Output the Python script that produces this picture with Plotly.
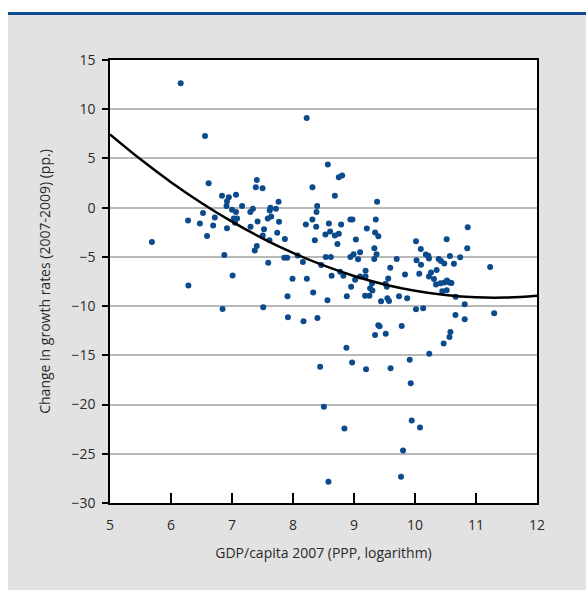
import plotly.graph_objects as go

# Scatter data: log GDP per capita 2007 (x) vs change in growth rate 2007-2009 (y, pp.)
gdp_log = [
    6.159, 6.558, 8.224, 8.571, 8.751, 8.805, 6.617, 7.406, 7.390, 7.501,
    8.319, 8.686, 6.836, 6.948, 6.918, 6.910, 7.065, 7.165, 7.763, 8.396,
    8.941, 7.000, 7.065, 7.300, 7.344, 7.630, 7.619, 7.720, 8.385, 6.525,
    6.718, 7.029, 7.083, 7.586, 7.643, 8.318, 6.280, 6.473, 6.691, 7.049,
    7.419, 7.771, 8.211, 8.588, 8.789, 6.918, 7.304, 7.525, 8.380, 8.609,
    8.686, 8.751, 8.532, 6.591, 7.504, 7.741, 7.614, 7.867, 8.358, 8.728,
    5.687, 7.406, 7.373, 6.874, 7.856, 7.905, 8.077, 8.538, 8.620, 8.941,
    8.162, 7.594, 8.462, 8.773, 7.010, 8.633, 8.826, 7.992, 8.227, 8.953,
    6.285, 8.331, 7.910, 8.882, 8.565, 6.845, 7.512, 7.917, 8.172, 8.401,
    8.876, 8.445, 8.506, 8.843, 8.581, 9.182, 9.252, 9.264, 9.301, 9.296,
    9.444, 9.517, 9.537, 9.547, 9.574, 9.738, 9.872, 10.016, 10.134, 9.399,
    9.419, 9.345, 9.520, 9.782, 8.969, 9.198, 9.599, 9.913, 9.930, 10.234,
    10.470, 10.565, 10.581, 10.663, 10.815, 10.815, 10.666, 11.298, 9.946, 10.082,
    9.804, 9.771, 10.229, 10.311, 10.344, 10.417, 10.483, 10.524, 10.565, 10.597,
    10.447, 10.519, 9.378, 8.974, 9.357, 9.210, 9.031, 9.345, 9.399, 9.334,
    9.370, 9.332, 9.100, 9.067, 8.993, 9.700, 10.016, 10.095, 10.177, 10.218,
    10.229, 10.025, 10.098, 10.519, 10.573, 10.388, 10.425, 10.480, 10.638, 10.741,
    10.864, 10.856, 11.232, 9.190, 9.190, 9.594, 9.836, 10.070, 10.262, 10.355,
    9.100, 9.018, 9.561,
]
growth_change = [
    12.63, 7.28, 9.11, 4.38, 3.09, 3.27, 2.48, 2.82, 2.08, 1.98,
    2.08, 1.20, 1.20, 1.06, 0.64, 0.18, 1.30, 0.18, 0.59, 0.18,
    -1.20, -0.20, -0.43, -0.43, -0.12, 0.00, -0.30, -0.12, -0.43, -0.53,
    -0.99, -1.10, -1.10, -1.10, -0.89, -1.20, -1.30, -1.60, -1.81, -1.52,
    -1.40, -1.42, -1.70, -1.60, -1.72, -2.10, -1.93, -2.18, -1.93, -2.43,
    -2.84, -2.66, -2.72, -2.89, -2.82, -2.54, -3.32, -3.19, -3.30, -3.70,
    -3.50, -3.90, -4.34, -4.82, -5.10, -5.10, -4.87, -5.02, -5.02, -5.02,
    -5.53, -5.60, -5.83, -6.51, -6.90, -6.92, -6.92, -7.22, -7.22, -8.03,
    -7.91, -8.62, -9.01, -9.01, -9.40, -10.29, -10.11, -11.14, -11.54, -11.21,
    -14.22, -16.15, -20.23, -22.43, -27.84, -8.95, -8.95, -8.19, -8.42, -7.69,
    -9.50, -7.74, -8.03, -9.21, -9.48, -9.01, -9.21, -10.31, -10.22, -11.94,
    -12.05, -12.93, -12.81, -12.02, -15.74, -16.41, -16.31, -15.44, -17.83, -14.84,
    -13.81, -13.13, -12.63, -10.90, -11.33, -9.82, -9.05, -10.73, -21.62, -22.33,
    -24.67, -27.33, -7.00, -7.25, -7.81, -7.69, -7.61, -7.40, -7.59, -7.66,
    -8.50, -8.40, 0.59, -1.20, -1.20, -2.11, -3.23, -2.52, -2.91, -4.13,
    -4.72, -5.22, -4.54, -5.24, -4.74, -5.22, -3.42, -4.21, -4.77, -4.89,
    -5.17, -5.34, -5.80, -3.21, -4.92, -5.21, -5.43, -5.68, -5.70, -5.04,
    -1.99, -4.13, -6.03, -6.42, -6.98, -6.11, -6.80, -6.71, -6.59, -6.34,
    -7.00, -7.32, -7.20,
]

# Fitted trend curve
trend_x = [5.0, 5.5, 6.0, 6.5, 7.0, 7.5, 8.0, 8.5, 9.0, 9.5, 10.0, 10.5, 11.0, 11.5, 12.0]
trend_y = [7.44, 4.91, 2.59, 0.48, -1.42, -3.11, -4.60, -5.87, -6.94, -7.80, -8.44, -8.88, -9.11, -9.13, -8.95]

x_ticks = [5, 6, 7, 8, 9, 10, 11, 12]
y_ticks = [15, 10, 5, 0, -5, -10, -15, -20, -25, -30]

x_title = "GDP/capita 2007 (PPP, logarithm)"
y_title = "Change in growth rates (2007-2009) (pp.)"

FONT = "Open Sans, Noto Sans, sans-serif"
TXT = "#2a2a2a"

fig = go.Figure()
fig.add_trace(go.Scatter(
    x=gdp_log, y=growth_change, mode="markers",
    marker=dict(color="#0b4a8b", size=6, line=dict(width=0)),
    showlegend=False, hoverinfo="x+y",
))
fig.add_trace(go.Scatter(
    x=trend_x, y=trend_y, mode="lines",
    line=dict(color="#000000", width=2.5, shape="spline"),
    showlegend=False, hoverinfo="skip",
))

W, H = 586, 595
L, R, T, B = 110, 49, 60, 92
pw = W - L - R
ph = H - T - B

def px_to_paper_x(px):
    return (px - L) / pw

def px_to_paper_y(py):
    return (H - B - py) / ph

shapes = [
    dict(type="rect", xref="paper", yref="paper",
         x0=px_to_paper_x(8), x1=px_to_paper_x(590),
         y0=px_to_paper_y(590), y1=px_to_paper_y(15),
         fillcolor="#e2e2e2", line=dict(width=0), layer="below"),
    dict(type="rect", xref="paper", yref="paper",
         x0=0, x1=1, y0=0, y1=1,
         fillcolor="#ffffff", line=dict(width=0), layer="below"),
    dict(type="line", xref="paper", yref="paper",
         x0=px_to_paper_x(8), x1=px_to_paper_x(590),
         y0=px_to_paper_y(13.5), y1=px_to_paper_y(13.5),
         line=dict(color="#0d4a8e", width=3), layer="below"),
]

fig.update_layout(
    width=W, height=H,
    margin=dict(l=L, r=R, t=T, b=B, pad=0),
    paper_bgcolor="#ffffff",
    plot_bgcolor="#ffffff",
    font=dict(family=FONT, size=14, color=TXT),
    shapes=shapes,
    showlegend=False,
)

fig.update_xaxes(
    range=[5, 12], tickvals=x_ticks, ticktext=[str(v) for v in x_ticks],
    ticks="inside", ticklen=10, tickwidth=1.5, tickcolor="#000000",
    ticklabelstandoff=8,
    showline=True, linecolor="#000000", linewidth=1.5, mirror=True,
    showgrid=False, zeroline=False,
    tickfont=dict(family=FONT, size=14, color=TXT),
    title=dict(text=x_title, standoff=16, font=dict(family=FONT, size=14, color=TXT)),
)
fig.update_yaxes(
    range=[-30, 15], tickvals=y_ticks,
    ticks="outside", ticklen=6, tickwidth=1.5, tickcolor="#000000",
    ticklabelstandoff=4,
    showline=True, linecolor="#000000", linewidth=1.5, mirror=True,
    showgrid=True, gridcolor="#b9b9b9", gridwidth=1.5, zeroline=False,
    tickfont=dict(family=FONT, size=14, color=TXT),
    title=dict(text=y_title, standoff=18, font=dict(family=FONT, size=14, color=TXT)),
)

fig.write_html("out.html")
